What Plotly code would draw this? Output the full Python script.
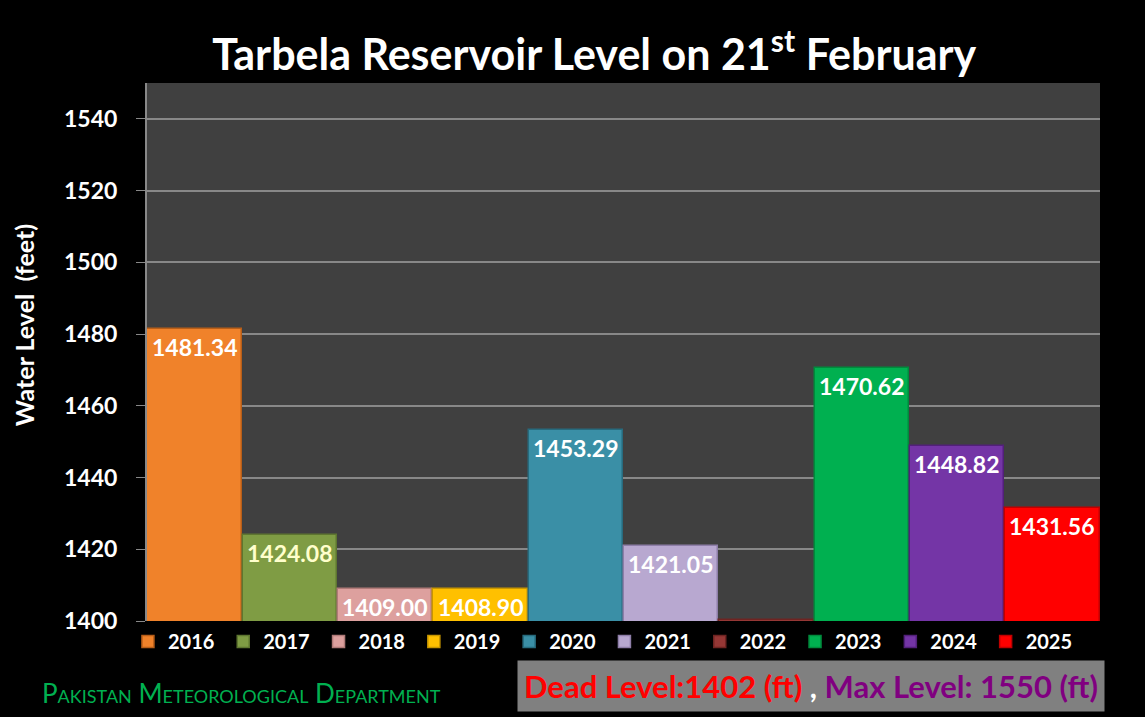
import plotly.graph_objects as go

years = ["2016", "2017", "2018", "2019", "2020", "2021", "2022", "2023", "2024", "2025"]
levels = [1481.34, 1424.08, 1409.00, 1408.90, 1453.29, 1421.05, 1400.30, 1470.62, 1448.82, 1431.56]
labels = ["1481.34", "1424.08", "1409.00", "1408.90", "1453.29", "1421.05", "", "1470.62", "1448.82", "1431.56"]
colors = ["#F0822A", "#7F9C44", "#DDA09E", "#FFC000", "#3A8FA6", "#B8A8D0", "#953735", "#00B050", "#7435A6", "#FF0000"]
edges = ["#B85E18", "#5E7630", "#B07A78", "#C89600", "#276B7E", "#8E7EA8", "#6E2422", "#008A3C", "#52207A", "#C00000"]
label_colors = ["#FFFFFF", "#FFFFCC", "#FFFFFF", "#FFFFFF", "#FFFFFF", "#FFFFFF", "#FFFFFF", "#FFFFFF", "#FFFFFF", "#FFFFFF"]
y_ticks = [1400, 1420, 1440, 1460, 1480, 1500, 1520, 1540]

FONT = "Lato"
fig = go.Figure()
for yr, v, c, e in zip(years, levels, colors, edges):
    fig.add_trace(go.Bar(
        x=[yr], y=[v], name=yr, marker=dict(color=c, line=dict(color=e, width=1.5)),
        width=0.99, hoverinfo="x+y",
    ))

for i, (v, lab, lc) in enumerate(zip(levels, labels, label_colors)):
    if lab:
        fig.add_annotation(x=i, y=v, xref="x", yref="y", text="<b>" + lab + "</b>",
                           showarrow=False, yanchor="middle", yshift=-18,
                           font=dict(family=FONT, size=23, color=lc))

fig.update_layout(
    width=1145, height=717,
    paper_bgcolor="black", plot_bgcolor="#404040",
    margin=dict(l=147, r=45, t=83, b=96),
    barmode="overlay", bargap=0,
    title=dict(text="<b>Tarbela Reservoir Level on 21<sup>st</sup> February</b>",
               x=0.519, xanchor="center", y=0.923, yanchor="middle",
               font=dict(family=FONT, size=43, color="white")),
    xaxis=dict(type="category", categoryorder="array", categoryarray=years,
               range=[-0.5, len(years) - 0.5], showticklabels=False, showgrid=False,
               zeroline=False, showline=False, ticks=""),
    yaxis=dict(range=[1400, 1550], tickvals=y_ticks, showgrid=True, gridcolor="#888888",
               gridwidth=2, zeroline=False, showline=True, linecolor="#888888", linewidth=2,
               ticks="outside", ticklen=9, tickcolor="#888888", ticklabelstandoff=14,
               tickfont=dict(family=FONT, size=23, color="white", weight="bold")),
    legend=dict(orientation="h", x=-0.02, xanchor="left", y=-0.002, yanchor="top",
                entrywidth=50.3, entrywidthmode="pixels", bgcolor="rgba(0,0,0,0)",
                font=dict(family=FONT, size=20, color="white", weight="bold"),
                itemclick=False, traceorder="normal"),
    showlegend=True,
)

fig.add_annotation(xref="paper", yref="paper", x=-0.129, y=0.55, xanchor="center", yanchor="middle",
                   text="<b>Water Level  (feet)</b>", textangle=-90, showarrow=False,
                   font=dict(family=FONT, size=25, color="white"))

fig.add_annotation(xref="paper", yref="paper", x=-0.112, y=-0.133, xanchor="left", yanchor="middle",
                   text="Pakistan Meteorological Department", showarrow=False,
                   font=dict(family=FONT, size=26, color="#00B050", variant="small-caps"))

fig.add_annotation(xref="paper", yref="paper", x=0.697, y=-0.1217, xanchor="center", yanchor="middle",
                   text="<b><span style='color:#FF0000'>Dead Level:1402 (ft)</span>"
                        "<span style='color:#FFFFFF'> , </span>"
                        "<span style='color:#800080'>Max Level: 1550 (ft)</span></b>",
                   showarrow=False, bgcolor="#808080", borderpad=6,
                   font=dict(family=FONT, size=31))

fig.write_html("out.html")
